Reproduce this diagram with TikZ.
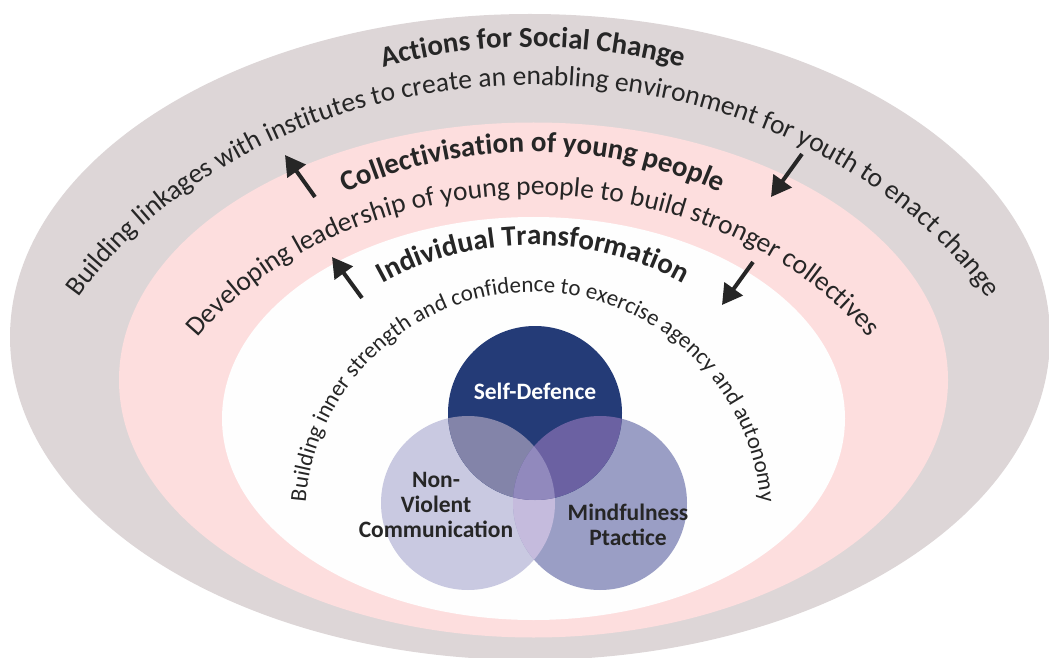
\documentclass[tikz,border=0pt]{standalone}
\usepackage{fontspec}
\setmainfont{Carlito}
\usetikzlibrary{decorations.text, arrows.meta}

\definecolor{outerband}{HTML}{DDD6D7}
\definecolor{pinkband}{HTML}{FDDEDE}
\definecolor{innerband}{HTML}{FEFEFE}
\definecolor{txt}{HTML}{262626}
\definecolor{sdcol}{HTML}{243B77}
\definecolor{nvcol}{HTML}{C9C9E1}
\definecolor{mpcol}{HTML}{9A9EC5}
\definecolor{sdnv}{HTML}{8384A9}
\definecolor{sdmp}{HTML}{6B61A2}
\definecolor{nvmp}{HTML}{C5BBDD}
\definecolor{allthree}{HTML}{9189BD}

\newcommand\ringtitle{\fontsize{29}{30}\selectfont\bfseries\color{txt}}
\newcommand\ringbody{\fontsize{27.5}{30}\selectfont\color{txt}}
\newcommand\corebody{\fontsize{23}{25}\selectfont\color{txt}}

\tikzset{
  bandtext/.style={decorate, decoration={text along path, text align=center, text={#1}}},
  flow/.style={line width=4pt, draw=txt, -{Triangle[length=20pt, width=22pt]}},
  venn/.style={font=\fontsize{23.5}{25}\selectfont\bfseries, text=txt, align=center}
}

\begin{document}
\begin{tikzpicture}[x=1pt, y=1pt]
\useasboundingbox (0,0) rectangle (1049,657);

\fill[outerband] (530,320) ellipse [x radius=520pt, y radius=323pt];
\fill[pinkband] (533.5,277) ellipse [x radius=414.5pt, y radius=257.5pt];
\fill[innerband] (533.5,238.5) ellipse [x radius=311.5pt, y radius=201.5pt];

% ring texts
\coordinate (o) at (533,137);
\path[bandtext={|\ringtitle|Actions for Social Change}] ([shift={(175:515pt and 473pt)}]o) arc[start angle=175, end angle=5, x radius=515pt, y radius=473pt];
\path[bandtext={|\ringbody|Building linkages with institutes to create an enabling environment for youth to enact change}] ([shift={(178:529pt and 435pt)}]o) arc[start angle=178, end angle=2, x radius=529pt, y radius=435pt];
\path[bandtext={|\ringtitle|Collectivisation of young people}] ([shift={(175:410pt and 368pt)}]o) arc[start angle=175, end angle=5, x radius=410pt, y radius=368pt];
\path[bandtext={|\ringbody|Developing leadership of young people to build stronger collectives}] ([shift={(178:405pt and 325pt)}]o) arc[start angle=178, end angle=2, x radius=405pt, y radius=325pt];
\path[bandtext={|\ringtitle|Individual Transformation}] ([shift={(175:295pt and 275pt)}]o) arc[start angle=175, end angle=5, x radius=295pt, y radius=275pt];
\path[bandtext={|\corebody|Building inner strength and confidence to exercise agency and autonomy}] ([shift={(179:228pt)}]o) arc[start angle=179, end angle=1, radius=228pt];

% venn
\fill[nvcol] (468,154) circle[radius=87pt];
\fill[mpcol] (600,154) circle[radius=87pt];
\fill[sdcol] (535,244) circle[radius=87pt];
\begin{scope}
  \clip (468,154) circle[radius=87pt];
  \fill[nvmp] (600,154) circle[radius=87pt];
  \fill[sdnv] (535,244) circle[radius=87pt];
\end{scope}
\begin{scope}
  \clip (600,154) circle[radius=87pt];
  \fill[sdmp] (535,244) circle[radius=87pt];
  \clip (468,154) circle[radius=87pt];
  \fill[allthree] (535,244) circle[radius=87pt];
\end{scope}

\node[venn, text=white] (selfdef) at (535,266) {Self-Defence};
\node[venn] (nonviol) at (436,152) {Non-\\Violent\\Communication};
\node[venn] (mindful) at (628,132) {Mindfulness\\Ptactice};

% arrows
\coordinate (outup0) at (315,460);
\coordinate (outup1) at (285,502);
\coordinate (inup0) at (362,359);
\coordinate (inup1) at (332,400);
\coordinate (outdn0) at (802,503);
\coordinate (outdn1) at (771,460);
\coordinate (indn0) at (753,395);
\coordinate (indn1) at (722,352);
\draw[flow] (outup0) -- (outup1);
\draw[flow] (inup0) -- (inup1);
\draw[flow] (outdn0) -- (outdn1);
\draw[flow] (indn0) -- (indn1);
\end{tikzpicture}
\end{document}
